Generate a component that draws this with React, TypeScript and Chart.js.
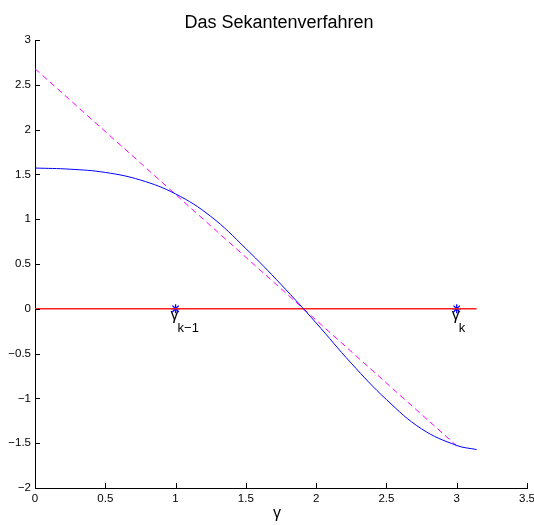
import React, { useEffect, useRef } from "react";
import { Chart, registerables } from "chart.js";

Chart.register(...registerables);

const TITLE = "Das Sekantenverfahren";
const X_LABEL = "γ";

// blue curve f(γ)
const gammaValues = [0, 0.25, 0.5, 0.75, 1.0, 1.25, 1.5, 1.75, 2.0, 2.25, 2.5, 2.75, 3.0, 3.1416];
const fValues = [1.571, 1.558, 1.522, 1.437, 1.282, 1.032, 0.672, 0.272, -0.158, -0.608, -1.013, -1.34, -1.525, -1.571];

// secant (dashed magenta)
const secantX = [0, 3];
const secantY = [2.68, -1.53];

// zero line (red)
const zeroX = [0, 3.1416];
const zeroY = [0, 0];

// marked iterates
const markerX = [1, 3];
const markerY = [0, 0];
const markerSub = ["k−1", "k"];

const FONT = '"Liberation Sans", Arial, sans-serif';

const pts = (xs: number[], ys: number[]) => xs.map((x, i) => ({ x, y: ys[i] }));

const decorPlugin = {
  id: "decor",
  beforeDatasetsDraw(chart: any) {
    const { ctx, scales } = chart;
    const xs = scales.x;
    const ys = scales.y;
    ctx.save();
    ctx.fillStyle = "#000";
    ctx.textBaseline = "alphabetic";
    ctx.textAlign = "left";
    markerX.forEach((mx, i) => {
      const px = xs.getPixelForValue(mx);
      const py = ys.getPixelForValue(markerY[i]);
      ctx.font = `16px ${FONT}`;
      const gx = px - 5;
      ctx.fillText("γ", gx, py + 11);
      const w = ctx.measureText("γ").width;
      ctx.font = `13px ${FONT}`;
      ctx.fillText(markerSub[i], gx + w - 1, py + 23);
    });
    ctx.restore();
  },
  afterDraw(chart: any) {
    const { ctx, scales, chartArea } = chart;
    const xs = scales.x;
    const ys = scales.y;
    ctx.save();
    // inward ticks
    ctx.strokeStyle = "#000";
    ctx.lineWidth = 1;
    ctx.beginPath();
    xs.ticks.forEach((t: any) => {
      const px = Math.round(xs.getPixelForValue(t.value)) + 0.5;
      ctx.moveTo(px, chartArea.bottom);
      ctx.lineTo(px, chartArea.bottom - 5);
    });
    ys.ticks.forEach((t: any) => {
      const py = Math.round(ys.getPixelForValue(t.value)) + 0.5;
      ctx.moveTo(chartArea.left, py);
      ctx.lineTo(chartArea.left + 5, py);
    });
    ctx.stroke();

    ctx.fillStyle = "#000";
    ctx.textBaseline = "alphabetic";
    // title
    ctx.font = `18px ${FONT}`;
    ctx.textAlign = "center";
    ctx.fillText(TITLE, 279, 28);
    // x label
    ctx.font = `16px ${FONT}`;
    ctx.fillText(X_LABEL, 277, 518);
    ctx.restore();
  },
};

export default function App() {
  const ref = useRef<HTMLCanvasElement | null>(null);
  useEffect(() => {
    if (!ref.current) return;
    const tickCb = (v: any) => String(v).replace("-", "−");
    const chart = new Chart(ref.current, {
      type: "line",
      data: {
        datasets: [
          {
            label: "f",
            data: pts(gammaValues, fValues),
            borderColor: "#0000ff",
            borderWidth: 1,
            pointRadius: 0,
            tension: 0.4,
            fill: false,
          },
          {
            label: "zero",
            data: pts(zeroX, zeroY),
            borderColor: "#ff2020",
            borderWidth: 1.5,
            pointRadius: 0,
            fill: false,
          },
          {
            label: "secant",
            data: pts(secantX, secantY),
            borderColor: "#ff00ff",
            borderWidth: 1,
            borderDash: [6, 4],
            pointRadius: 0,
            fill: false,
          },
          {
            label: "iterates",
            data: pts(markerX, markerY),
            showLine: false,
            pointStyle: "star",
            pointRadius: 4.5,
            pointBorderColor: "#0000ff",
            pointBackgroundColor: "#0000ff",
            pointBorderWidth: 1.3,
          },
        ],
      },
      options: {
        animation: false,
        responsive: false,
        layout: { padding: { top: 40, right: 7, left: 0, bottom: 0 } },
        plugins: { legend: { display: false }, tooltip: { enabled: false }, title: { display: false } },
        scales: {
          x: {
            type: "linear",
            min: 0,
            max: 3.5,
            grid: { display: false, drawTicks: false },
            border: { display: true, color: "#000", width: 1 },
            ticks: {
              stepSize: 0.5,
              autoSkip: false,
              maxRotation: 0,
              padding: 4,
              color: "#000",
              font: { family: FONT, size: 11.5 },
              callback: tickCb,
            },
            afterFit: (s: any) => {
              s.height = 37;
              s.paddingLeft = 0;
              s.paddingRight = 0;
            },
          },
          y: {
            type: "linear",
            min: -2,
            max: 3,
            grid: { display: false, drawTicks: false },
            border: { display: true, color: "#000", width: 1 },
            ticks: {
              stepSize: 0.5,
              autoSkip: false,
              padding: 4,
              color: "#000",
              font: { family: FONT, size: 11.5 },
              callback: tickCb,
            },
            afterFit: (s: any) => {
              s.width = 35;
              s.paddingTop = 0;
              s.paddingBottom = 0;
            },
          },
        },
      },
      plugins: [decorPlugin],
    } as any);
    return () => chart.destroy();
  }, []);
  return (
    <div style={{ position: "fixed", left: 0, top: 0, width: 534, height: 525, background: "#fff" }}>
      <canvas ref={ref} width={534} height={525} />
    </div>
  );
}
